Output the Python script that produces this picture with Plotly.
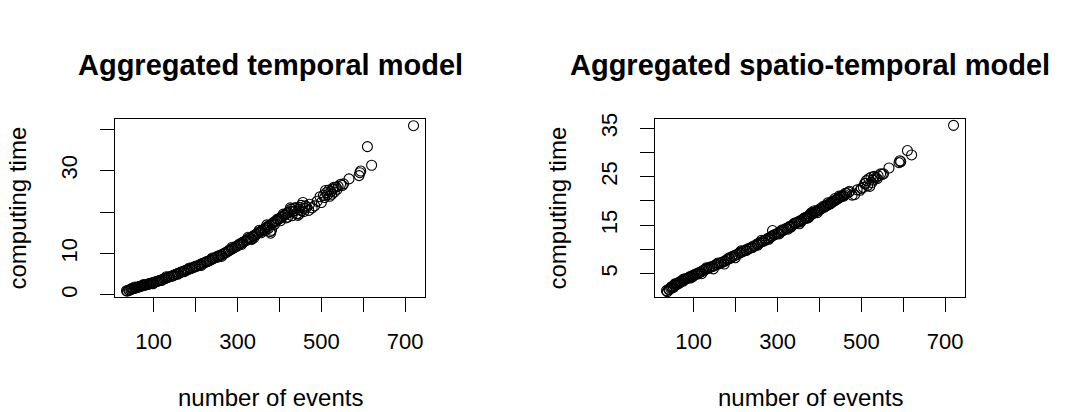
import plotly.graph_objects as go

# number of events (shared by both panels)
events = [35, 37, 40, 42, 45, 47, 50, 52, 54, 57, 59, 61, 63, 66, 68, 70, 73, 75, 78, 80,
          83, 86, 88, 91, 94, 97, 100, 103, 106, 109, 112, 115, 118, 121, 125, 128, 131, 135, 138, 142,
          145, 149, 153, 156, 160, 164, 167, 171, 175, 179, 182, 186, 190, 193, 197, 201, 205, 209, 212, 216,
          220, 224, 228, 232, 235, 239, 243, 247, 251, 255, 258, 262, 266, 270, 273, 277, 281, 285, 288, 292,
          295, 299, 302, 306, 309, 313, 316, 320, 323, 327, 330, 334, 337, 341, 344, 348, 351, 355, 358, 362,
          365, 369, 372, 376, 379, 383, 386, 390, 393, 397, 400, 404, 407, 411, 414, 418, 421, 425, 428, 432,
          435, 439, 442, 446, 449, 453, 456, 460, 465, 470, 478, 484, 500, 505, 508, 512, 515, 518, 520, 523,
          527, 531, 535, 540, 546, 550, 566, 590, 592, 594, 610, 620, 720,
          48, 65, 92, 119, 147, 173, 199, 226, 253, 279, 304, 332, 356, 374, 381, 395, 416, 430, 444, 458,
          55, 76, 98, 130, 158, 185, 213, 240, 262, 287, 310, 325, 340, 352, 366, 370, 378, 388, 402, 409,
          420, 426, 437, 447, 452, 462, 472, 490, 497, 510, 525, 530, 538, 553]

# computing time, aggregated temporal model
time_temporal = [1.0, 0.9, 1.2, 1.1, 1.3, 1.4, 1.5, 1.5, 1.6, 1.7, 1.8, 1.8, 1.9, 2.0, 2.1, 2.1, 2.2, 2.3, 2.3, 2.4,
                 2.5, 2.6, 2.6, 2.7, 2.8, 2.9, 3.0, 3.1, 3.2, 3.3, 3.4, 3.5, 3.6, 3.7, 3.9, 4.0, 4.1, 4.3, 4.4, 4.5,
                 4.6, 4.8, 5.0, 5.1, 5.3, 5.4, 5.6, 5.7, 5.9, 6.0, 6.1, 6.3, 6.4, 6.6, 6.7, 6.9, 7.0, 7.2, 7.4, 7.6,
                 7.7, 7.9, 8.1, 8.2, 8.4, 8.6, 8.8, 9.0, 9.1, 9.3, 9.5, 9.7, 9.9, 10.1, 10.3, 10.5, 10.8, 11.0, 11.2, 11.4,
                 11.6, 11.8, 12.0, 12.3, 12.5, 12.7, 12.9, 13.1, 13.3, 13.6, 13.8, 13.4, 14.2, 14.4, 14.6, 14.9, 15.1, 15.3, 15.6, 15.8,
                 16.0, 16.3, 16.5, 16.8, 14.9, 17.2, 17.5, 17.7, 17.9, 18.2, 18.4, 18.7, 18.9, 19.2, 19.4, 19.7, 19.9, 20.2, 20.7, 20.2,
                 20.9, 21.1, 19.6, 20.6, 21.1, 20.3, 22.3, 20.9, 21.2, 20.4, 21.0, 21.5, 22.3, 24.0, 23.5, 24.7, 24.2, 25.3, 23.8, 25.0,
                 25.6, 24.8, 26.0, 26.2, 26.7, 26.4, 28.0, 28.8, 29.5, 29.9, 35.8, 31.3, 40.85,
                 1.6, 2.0, 2.8, 3.5, 4.7, 5.6, 6.9, 8.0, 9.4, 10.7, 12.2, 13.5, 15.0, 16.1, 15.6, 18.3, 18.6, 19.1, 19.2, 20.1,
                 1.9, 2.5, 2.7, 4.4, 5.0, 6.5, 7.1, 8.9, 9.3, 11.5, 12.2, 13.9, 13.9, 15.6, 15.5, 16.9, 15.3, 17.0, 17.9, 19.5,
                 18.8, 21.0, 20.3, 19.5, 21.6, 21.5, 21.9, 22.6, 23.7, 25.2, 24.3, 26.0, 25.5, 26.8]

# computing time, aggregated spatio-temporal model
time_spatiotemporal = [1.5, 1.3, 1.8, 1.7, 2.0, 2.3, 2.4, 2.2, 2.6, 2.8, 2.7, 3.0, 3.1, 3.2, 3.4, 3.3, 3.6, 3.5, 3.8, 3.9,
                       4.0, 4.1, 4.2, 4.4, 4.3, 4.6, 4.7, 4.8, 5.0, 4.9, 5.2, 5.3, 5.4, 5.6, 5.7, 5.9, 6.0, 6.1, 6.3, 6.4,
                       6.5, 6.6, 6.9, 6.9, 7.1, 7.2, 7.3, 7.5, 7.6, 7.9, 8.0, 8.1, 8.4, 8.6, 8.7, 8.9, 9.0, 9.3, 9.4, 9.5,
                       9.7, 9.8, 10.1, 10.2, 10.3, 10.5, 10.7, 10.8, 11.1, 11.2, 11.4, 11.6, 11.7, 11.9, 12.0, 12.3, 12.4, 12.6, 13.9, 13.0,
                       13.1, 13.3, 13.4, 13.6, 13.8, 13.9, 14.1, 14.3, 14.4, 14.6, 14.8, 14.9, 15.1, 15.3, 15.5, 15.6, 15.8, 15.9, 16.1, 16.3,
                       16.5, 16.6, 16.8, 17.0, 17.2, 17.3, 17.5, 17.7, 17.9, 18.0, 18.2, 18.4, 18.6, 18.7, 18.9, 19.1, 19.3, 19.4, 19.6, 19.8,
                       20.0, 20.2, 20.4, 20.6, 20.8, 21.0, 21.1, 21.3, 21.6, 21.8, 21.2, 21.3, 22.6, 22.8, 23.6, 24.2, 23.2, 24.6, 23.0, 24.9,
                       24.3, 25.1, 24.8, 25.2, 25.6, 25.5, 26.8, 27.9, 28.3, 28.1, 30.4, 29.5, 35.6,
                       2.1, 3.0, 4.1, 5.0, 6.0, 7.0, 8.3, 9.8, 10.9, 12.1, 13.2, 14.6, 15.7, 16.6, 17.6, 17.6, 19.0, 19.9, 20.5, 21.0,
                       2.9, 3.9, 4.4, 6.2, 7.2, 8.3, 9.7, 10.4, 11.9, 12.8, 14.0, 14.2, 15.4, 15.3, 16.6, 16.4, 17.3, 18.0, 18.4, 18.9,
                       19.6, 19.4, 20.5, 21.0, 20.9, 21.6, 22.0, 22.3, 22.2, 23.6, 23.8, 25.0, 24.6, 25.6]

x_ticks = [100, 200, 300, 400, 500, 600, 700]
x_ticktext = ["100", "", "300", "", "500", "", "700"]
yl_ticks = [0, 10, 20, 30, 40]
yl_ticktext = ["0", "10", "", "30", ""]
yr_ticks = [5, 10, 15, 20, 25, 30, 35]
yr_ticktext = ["5", "", "15", "", "25", "", "35"]

W, H = 1081, 412
FONT = "Liberation Sans, Arial, sans-serif"

marker = dict(symbol="circle-open", size=10, color="black", line=dict(width=1.1, color="black"))

fig = go.Figure()
fig.add_trace(go.Scatter(x=events, y=time_temporal, mode="markers", marker=marker,
                         xaxis="x", yaxis="y", showlegend=False))
fig.add_trace(go.Scatter(x=events, y=time_spatiotemporal, mode="markers", marker=marker,
                         xaxis="x2", yaxis="y2", showlegend=False))

ydom = [1 - 296 / H, 1 - 115 / H]
common_x = dict(showgrid=False, zeroline=False, showline=True, mirror=True, linecolor="black", linewidth=1,
                ticks="outside", ticklen=14, tickcolor="black", tickwidth=1,
                tickfont=dict(family=FONT, size=22, color="black"), ticklabelstandoff=11,
                range=[7.6, 747.4], tickvals=x_ticks, ticktext=x_ticktext)
common_y = dict(showgrid=False, zeroline=False, showline=True, mirror=True, linecolor="black", linewidth=1,
                ticks="outside", ticklen=14, tickcolor="black", tickwidth=1, tickangle=-90,
                tickfont=dict(family=FONT, size=22, color="black"), ticklabelstandoff=14, domain=ydom)

fig.update_layout(
    width=W, height=H, margin=dict(l=0, r=0, t=0, b=0),
    paper_bgcolor="white", plot_bgcolor="white",
    xaxis=dict(common_x, domain=[115 / W, 425 / W], anchor="y"),
    yaxis=dict(common_y, range=[-0.5, 42.45], tickvals=yl_ticks, ticktext=yl_ticktext, anchor="x"),
    xaxis2=dict(common_x, domain=[655 / W, 965 / W], anchor="y2"),
    yaxis2=dict(common_y, range=[0.2, 36.9], tickvals=yr_ticks, ticktext=yr_ticktext, anchor="x2"),
)

titles = [("Aggregated temporal model", 270), ("Aggregated spatio-temporal model", 810)]
for txt, cx in titles:
    fig.add_annotation(text="<b>" + txt + "</b>", x=cx / W, y=1 - 60 / H, xref="paper", yref="paper",
                       xanchor="center", yanchor="middle", showarrow=False,
                       font=dict(family=FONT, size=29, color="black"))
for cx in (270, 810):
    fig.add_annotation(text="number of events", x=cx / W, y=1 - 398 / H, xref="paper", yref="paper",
                       xanchor="center", yanchor="middle", showarrow=False,
                       font=dict(family=FONT, size=24, color="black"))
for cx in (17.5, 557.5):
    fig.add_annotation(text="computing time", x=cx / W, y=1 - 205.5 / H, xref="paper", yref="paper",
                       xanchor="center", yanchor="middle", showarrow=False, textangle=-90,
                       font=dict(family=FONT, size=24, color="black"))

fig.write_html("out.html", config={"displayModeBar": False},
               post_script="document.body.style.margin='0';")
